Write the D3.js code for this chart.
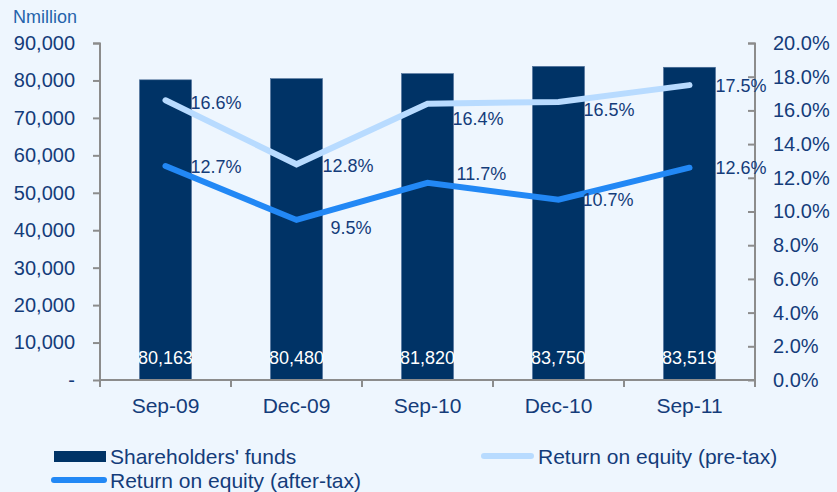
<!DOCTYPE html>
<html>
<head>
<meta charset="utf-8">
<script src="https://cdn.jsdelivr.net/npm/d3@7"></script>
<style>
  body { margin: 0; background: #eef6fe; }
  svg { display: block; font-family: "Liberation Sans", Arial, sans-serif; }
</style>
</head>
<body>
<script>
// data
const periods = ["Sep-09", "Dec-09", "Sep-10", "Dec-10", "Sep-11"];
const funds = [80163, 80480, 81820, 83750, 83519];
const roePreTax = [16.6, 12.8, 16.4, 16.5, 17.5];
const roeAfterTax = [12.7, 9.5, 11.7, 10.7, 12.6];
const leftTicks = [0, 10000, 20000, 30000, 40000, 50000, 60000, 70000, 80000, 90000];
const rightTicks = [0, 2, 4, 6, 8, 10, 12, 14, 16, 18, 20];

// manual label nudges (like the hand-moved excel labels)
const preOffsets = [[25, 2], [26, 1], [25, 15], [25, 8], [26, 0]];
const afterOffsets = [[25, 1], [34, 8], [29, -9], [24, 0], [26, 0]];

const W = 837, H = 492;
const m = { left: 100, right: 82, top: 43, bottom: 112 };
const navy = "#003366", pale = "#b8dbff", bright = "#2288f5";
const textCol = "#143c7a";

const svg = d3.select("body").append("svg")
    .attr("width", W).attr("height", H);

svg.append("rect").attr("width", W).attr("height", H).attr("fill", "#eef6fe");

const x = d3.scaleBand()
    .domain(periods)
    .range([m.left, W - m.right]);

const yL = d3.scaleLinear().domain([0, 90000]).range([H - m.bottom, m.top]);
const yR = d3.scaleLinear().domain([0, 20]).range([H - m.bottom, m.top]);

const barW = 52;

// bars
svg.selectAll("rect.bar")
    .data(funds)
    .enter()
    .append("rect")
    .attr("class", "bar")
    .attr("x", (d, i) => x(periods[i]) + x.bandwidth() / 2 - barW / 2)
    .attr("y", d => yL(d))
    .attr("width", barW)
    .attr("height", d => yL(0) - yL(d))
    .attr("fill", navy)
    .attr("stroke", "#4d6f99")
    .attr("stroke-width", 0.6);

svg.selectAll("text.barlabel")
    .data(funds)
    .enter()
    .append("text")
    .attr("class", "barlabel")
    .attr("x", (d, i) => x(periods[i]) + x.bandwidth() / 2)
    .attr("y", yL(0) - 16)
    .attr("text-anchor", "middle")
    .attr("fill", "#ffffff")
    .attr("font-size", 18)
    .text(d => d3.format(",")(d));

// axes
const axisCol = "#8c8c8c";

const gL = svg.append("g")
    .attr("transform", `translate(${m.left},0)`)
    .call(d3.axisLeft(yL).tickValues(leftTicks).tickSize(7).tickPadding(18)
        .tickFormat(d => d === 0 ? "-" : d3.format(",")(d)));

const gR = svg.append("g")
    .attr("transform", `translate(${W - m.right},0)`)
    .call(d3.axisRight(yR).tickValues(rightTicks).tickSize(-7).tickPadding(18)
        .tickFormat(d => d.toFixed(1) + "%"));

const gX = svg.append("g")
    .attr("transform", `translate(0,${yL(0)})`)
    .call(d3.axisBottom(x).tickSize(0).tickPadding(18));

// category boundary ticks on x axis
gX.selectAll("line.sep")
    .data(d3.range(periods.length + 1))
    .enter()
    .append("line")
    .attr("class", "sep")
    .attr("x1", i => m.left + i * x.step())
    .attr("x2", i => m.left + i * x.step())
    .attr("y1", 0).attr("y2", 7);

[gL, gR, gX].forEach(g => {
    g.select(".domain").attr("stroke", axisCol).attr("stroke-width", 2);
    g.selectAll("line").attr("stroke", axisCol).attr("stroke-width", 2);
    g.selectAll("text").attr("fill", textCol).attr("font-size", 20);
});
gX.select(".domain").attr("d", `M${m.left},0H${W - m.right}`);
gL.select(".domain").attr("d", "M-7,43.5H0V380.5");
gR.select(".domain").attr("d", "M-7,43.5H0V380.5");
gX.selectAll(".tick text").attr("font-size", 21);

svg.append("text")
    .attr("x", 13).attr("y", 23)
    .attr("fill", "#2563ab")
    .attr("font-size", 18)
    .text("Nmillion");

// lines
const cx = i => x(periods[i]) + x.bandwidth() / 2;
const line = d3.line().x((d, i) => cx(i)).y(d => yR(d));

function drawSeries(vals, color, offsets) {
    svg.append("path")
        .datum(vals)
        .attr("fill", "none")
        .attr("stroke", color)
        .attr("stroke-width", 6)
        .attr("stroke-linecap", "round")
        .attr("stroke-linejoin", "miter")
        .attr("d", line);

    svg.append("g").selectAll("text")
        .data(vals)
        .enter()
        .append("text")
        .attr("x", (d, i) => cx(i) + offsets[i][0])
        .attr("y", (d, i) => yR(d) + offsets[i][1])
        .attr("dy", "0.36em")
        .attr("fill", textCol)
        .attr("font-size", 18)
        .text(d => d.toFixed(1) + "%");
}

drawSeries(roePreTax, pale, preOffsets);
drawSeries(roeAfterTax, bright, afterOffsets);

// legend
const legend = svg.append("g").attr("font-size", 21).attr("fill", textCol);

legend.append("rect")
    .attr("x", 54).attr("y", 451).attr("width", 52).attr("height", 11)
    .attr("fill", navy);
legend.append("text").attr("x", 110).attr("y", 456).attr("dy", "0.36em")
    .attr("fill", textCol).text("Shareholders' funds");

legend.append("line")
    .attr("x1", 484).attr("x2", 531).attr("y1", 456).attr("y2", 456)
    .attr("stroke", pale).attr("stroke-width", 6).attr("stroke-linecap", "round");
legend.append("text").attr("x", 538).attr("y", 456).attr("dy", "0.36em")
    .attr("fill", textCol).text("Return on equity (pre-tax)");

legend.append("line")
    .attr("x1", 54).attr("x2", 104).attr("y1", 480).attr("y2", 480)
    .attr("stroke", bright).attr("stroke-width", 6).attr("stroke-linecap", "round");
legend.append("text").attr("x", 110).attr("y", 480).attr("dy", "0.36em")
    .attr("fill", textCol).text("Return on equity (after-tax)");
</script>
</body>
</html>
